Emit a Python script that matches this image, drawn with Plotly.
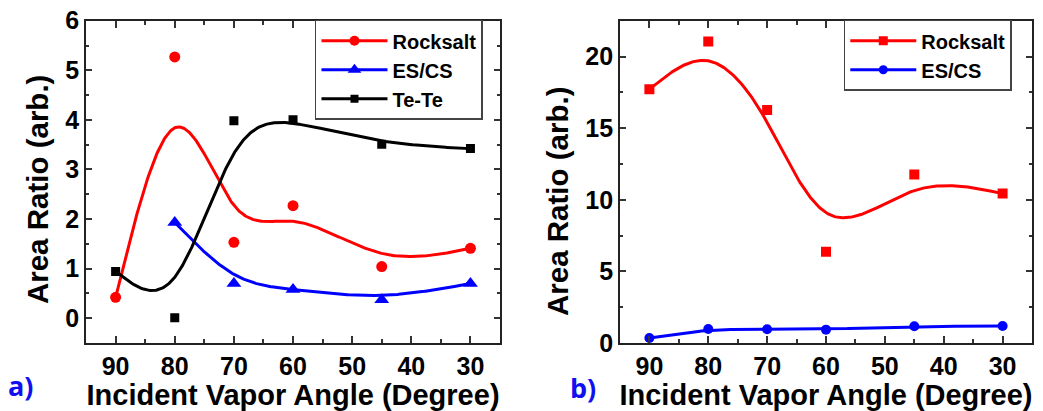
import numpy as np
import plotly.graph_objects as go

# ---- data ----
angles_a = [90, 80, 70, 60, 45, 30]
rocksalt_a = [0.42, 5.27, 1.53, 2.27, 1.04, 1.41]
angles_escs_a = [80, 70, 60, 45, 30]
escs_a = [1.93, 0.70, 0.58, 0.37, 0.70]
tete_a = [0.94, 0.01, 3.98, 4.00, 3.51, 3.42]

angles_b = [90, 80, 70, 60, 45, 30]
rocksalt_b = [17.72, 21.05, 16.27, 6.37, 11.76, 10.43]
escs_b = [0.35, 0.98, 0.96, 0.93, 1.17, 1.19]

x_ticks = [90, 80, 70, 60, 50, 40, 30]

RED = "#FF0000"
BLUE = "#0000FF"
BLACK = "#000000"
FONT = "Liberation Sans"


def bspline(xs, ys, per_seg=80):
    """Uniform cubic B-spline with the points as control polygon.
    End points are reflected so the curve starts and ends on the data."""
    P = np.column_stack([xs, ys]).astype(float)
    P = np.vstack([2 * P[0] - P[1], P, 2 * P[-1] - P[-2]])
    s = np.linspace(0, 1, per_seg)
    b0 = (1 - s) ** 3 / 6
    b1 = (3 * s ** 3 - 6 * s ** 2 + 4) / 6
    b2 = (-3 * s ** 3 + 3 * s ** 2 + 3 * s + 1) / 6
    b3 = s ** 3 / 6
    pts = []
    for i in range(len(P) - 3):
        seg = (np.outer(b0, P[i]) + np.outer(b1, P[i + 1])
               + np.outer(b2, P[i + 2]) + np.outer(b3, P[i + 3]))
        pts.append(seg if i == 0 else seg[1:])
    C = np.vstack(pts)
    return C[:, 0], C[:, 1]


fig = go.Figure()


def add_series(xs, ys, color, symbol, size, name, xa, ya, legend):
    cx, cy = bspline(xs, ys)
    fig.add_trace(go.Scatter(x=cx, y=cy, mode="lines", line=dict(color=color, width=3),
                             xaxis=xa, yaxis=ya, showlegend=False, hoverinfo="skip"))
    fig.add_trace(go.Scatter(x=xs, y=ys, mode="markers",
                             marker=dict(color=color, symbol=symbol, size=size),
                             xaxis=xa, yaxis=ya, showlegend=False))
    # legend entry: line with marker
    fig.add_trace(go.Scatter(x=[None], y=[None], mode="lines+markers", name=name,
                             line=dict(color=color, width=3),
                             marker=dict(color=color, symbol=symbol, size=size - 1),
                             xaxis=xa, yaxis=ya, legend=legend))


add_series(angles_a, rocksalt_a, RED, "circle", 11, "Rocksalt", "x", "y", "legend")
add_series(angles_escs_a, escs_a, BLUE, "triangle-up", 13, "ES/CS", "x", "y", "legend")
add_series(angles_a, tete_a, BLACK, "square", 9, "Te-Te", "x", "y", "legend")

add_series(angles_b, rocksalt_b, RED, "square", 10, "Rocksalt", "x2", "y2", "legend2")
add_series(angles_b, escs_b, BLUE, "circle", 10, "ES/CS", "x2", "y2", "legend2")

tick_font = dict(family=FONT, size=25, color="black", weight="bold")
title_font = dict(family=FONT, size=29, color="black", weight="bold")
legend_font = dict(family=FONT, size=20, color="black", weight="bold")

common_x = dict(range=[95, 25], tickvals=x_ticks, ticks="inside", ticklen=7, tickwidth=1.5,
                tickcolor="#333", showline=True, linecolor="#222", linewidth=1.6,
                mirror="ticks", showgrid=False, zeroline=False, tickfont=tick_font,
                minor=dict(dtick=5, tick0=0, ticks="inside", ticklen=4, tickcolor="#333"),
                title=dict(text="Incident Vapor Angle (Degree)", font=title_font, standoff=5),
                automargin=False)
common_y = dict(ticks="inside", ticklen=6, tickwidth=1.5, tickcolor="#333", showline=True,
                linecolor="#222", linewidth=1.6, mirror="ticks", showgrid=False,
                zeroline=False, tickfont=tick_font, automargin=False)

legend_common = dict(xanchor="left", yanchor="top", bgcolor="white", bordercolor="#444",
                     borderwidth=1.5, font=legend_font, itemwidth=66, tracegroupgap=0)

y_title = dict(text="Area Ratio (arb.)", xref="paper", yref="paper", textangle=-90,
               showarrow=False, xanchor="center", yanchor="middle",
               font=dict(family=FONT, size=29.5, color="black", weight="bold"))

fig.update_layout(
    width=1043, height=411,
    margin=dict(l=0, r=0, t=0, b=0),
    paper_bgcolor="white", plot_bgcolor="white",
    xaxis=dict(domain=[0.0825, 0.4794], anchor="y", **common_x),
    yaxis=dict(domain=[0.1655, 0.9496], anchor="x", range=[-0.5, 6], tickvals=[0, 1, 2, 3, 4, 5, 6],
               minor=dict(dtick=0.5, tick0=0, ticks="inside", ticklen=3, tickcolor="#333"),
               **common_y),
    xaxis2=dict(domain=[0.5944, 0.9895], anchor="y2", **common_x),
    yaxis2=dict(domain=[0.1655, 0.9496], anchor="x2", range=[0, 22.5], tickvals=[0, 5, 10, 15, 20],
                minor=dict(dtick=2.5, tick0=0, ticks="inside", ticklen=3, tickcolor="#333"),
                **common_y),
    legend=dict(x=0.302, y=0.952, **legend_common),
    legend2=dict(x=0.809, y=0.952, **legend_common),
    annotations=[
        dict(x=0.0355, y=0.540, **y_title),
        dict(x=0.535, y=0.511, **y_title),
        dict(text="a)", x=0.006, y=0.063, xref="paper", yref="paper", xanchor="left",
             yanchor="middle", showarrow=False,
             font=dict(family="Open Sans, sans-serif", size=27, color="#1010F0", weight="bold")),
        dict(text="b)", x=0.545, y=0.056, xref="paper", yref="paper", xanchor="left",
             yanchor="middle", showarrow=False,
             font=dict(family="Open Sans, sans-serif", size=27, color="#1010F0", weight="bold")),
    ],
)

fig.write_html("out.html")
